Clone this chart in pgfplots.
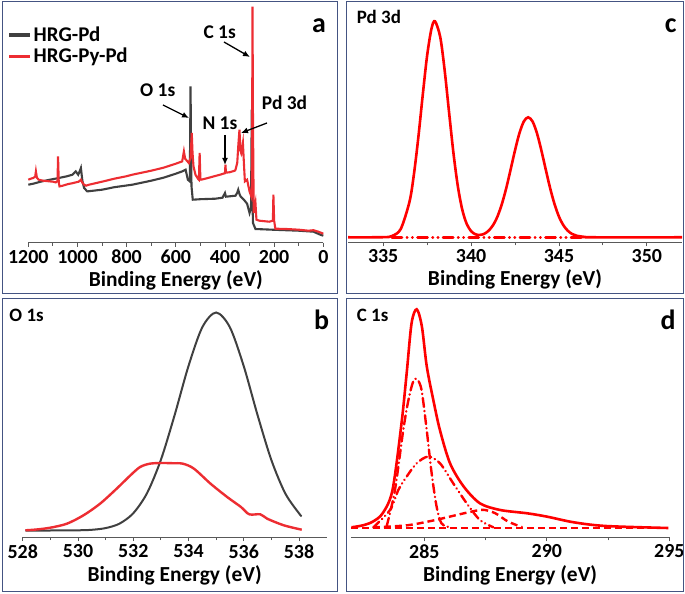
\documentclass[border=0pt]{standalone}
\usepackage{fontspec}
\setmainfont{Carlito}
\usepackage{pgfplots}
\pgfplotsset{compat=1.18}
\usetikzlibrary{arrows.meta}

\definecolor{boxc}{RGB}{68,84,130}
\definecolor{redA}{RGB}{237,45,50}
\definecolor{grayA}{RGB}{64,64,64}
\definecolor{redC}{RGB}{255,0,0}

\pgfplotsset{
  panel/.style={
    scale only axis, clip=false,
    axis x line=bottom, axis y line=none,
    axis line style={-, black!65, line width=0.9bp},
    tick align=outside, major tick length=4bp, minor tick length=3bp,
    tick style={black!65, line width=0.9bp},
    minor tick num=1,
    tick label style={font=\bfseries\fontsize{20}{20}\selectfont},
    xlabel={Binding Energy (eV)},
    xlabel style={font=\bfseries\fontsize{21.5}{22}\selectfont, yshift=0bp},
    /pgf/number format/assume math mode=true,
    /pgf/number format/1000 sep={},
    ymin=0,
  },
}

\begin{document}
\begin{tikzpicture}
\useasboundingbox (0,0) rectangle (685bp,594bp);

% ---------- a: survey ----------
\begin{axis}[panel, at={(28.3bp,351.3bp)}, anchor=south west,
  width=295bp, height=238bp, xmin=0, xmax=1200, ymax=238, x dir=reverse,
  xtick={0,200,...,1200},
  legend cell align=left,
  legend style={draw=none, fill=none, at={(-0.072,0.915)}, anchor=north west,
    font=\bfseries\fontsize{21}{21}\selectfont, row sep=1bp, inner sep=0pt},
  legend image code/.code={\draw[#1, line width=3.5bp] (0bp,0bp) -- (21bp,0bp);}]
\addplot[grayA, line width=2.1bp] coordinates {
(1200,58) (1180,59) (1150,61) (1112,63) (1080,64.5) (1045,66.3) (1020,68)
(1007,71.3) (997,68) (990,72) (986,74.7) (980,62) (973,54.7) (960,51.3)
(900,53) (850,55.5) (777,58) (700,62) (650,65) (600,69) (574,71.3) (560,73)
(551,63) (543,61.3) (540,156.3) (537,70) (536,56) (531,43) (500,43.5)
(439,44) (410,45) (400,49.7) (396,46) (357,47) (350,50) (346,53) (340,48)
(336,46) (323,43) (310,39) (300,29.7) (294,35) (291,133) (288,40) (286,19.7)
(276,13.7) (209,13) (100,12) (40,11) (12,8) (0,7)};
\addplot[redA, line width=2.1bp] coordinates {
(1200,63) (1190,64) (1180,64.7) (1172,66) (1169,71.3) (1165,65) (1158,63)
(1140,62) (1120,61.5) (1100,61) (1088,60.3) (1081,62) (1079,86.3) (1076,60)
(1073,56.3) (1060,57) (1040,58.5) (1020,59.5) (1007,60.3) (995,61) (986,63)
(980,60) (973,58) (965,57) (953,58) (900,61) (850,64) (800,66.5) (777,68)
(700,72) (650,75) (600,79) (574,81.3) (567,91.3) (562,84) (555,82) (547,79.7)
(540,85) (535,109.7) (532,90) (528,76.3) (520,68) (510,64) (506,63) (503,89.7)
(500,64) (497,63) (480,64) (450,66) (420,68) (400,69.5) (398,78) (396,70)
(380,70.5) (360,72) (357,73) (350,80) (346,96.3) (341,113) (337,92) (334,89.7)
(330,95) (327,99.7) (322,75) (319,61.3) (310,63) (300,51.3) (293,46.3)
(290,60) (288,236) (286,120) (283,29.7) (280,35) (276,40) (272,23) (260,22)
(240,21.5) (220,21) (205,22) (203,48) (200,22) (195,14) (150,13.7) (100,13)
(60,12) (40,12.5) (20,11) (10,10) (0,9)};
\legend{HRG-Pd, HRG-Py-Pd}
\end{axis}

% ---------- b: O 1s ----------
\begin{axis}[panel, at={(22.7bp,57bp)}, anchor=south west,
  width=303.9bp, height=237bp, xmin=528, xmax=539, ymax=237,
  xtick={528,530,...,538}]
\addplot[grayA, line width=2bp, smooth] coordinates {
(528.1,6.5) (529,6.5) (530,6.7) (530.5,7.2) (531,8.9) (531.5,13.3) (532,23.7)
(532.5,43.8) (533,77.0) (533.5,122.0) (534,170.9) (534.5,209.7) (535,224.5)
(535.5,209.7) (536,170.9) (536.5,122.0) (537,77.0) (537.5,43.8) (538,23.7)
(538.1,20.9)};
\addplot[redA, line width=2.4bp, smooth] coordinates {
(528.1,6.7) (528.5,7.5) (529.0,9.3) (529.6,13.3) (530.2,21.7) (530.8,33.3)
(531.4,48.3) (531.9,61.7) (532.25,70) (532.6,73.3) (533.0,74) (533.4,73.8)
(533.8,73.3) (534.2,68.3) (534.8,53.3) (535.4,40) (535.9,30) (536.2,22.7)
(536.6,22.7) (536.85,18.3) (537.45,11.7) (538.1,7.3)};
\end{axis}

% ---------- c: Pd 3d ----------
\begin{axis}[panel, at={(348bp,351.7bp)}, anchor=south west,
  width=334bp, height=236bp, xmin=333, xmax=352, ymax=236,
  xtick={335,340,345,350}]
\addplot[redC, line width=2.8bp, line cap=round,
  dash pattern=on 10bp off 5bp on 0.3bp off 5bp on 0.3bp off 5bp] coordinates {
(335.5,5) (346.3,5)};
\addplot[redC, line width=2.6bp, smooth] coordinates {
(333,5) (335,5.1) (335.5,6.3) (336,13.3) (336.5,40.7) (336.75,68) (337,104.7)
(337.25,147) (337.5,186.6) (337.75,213.7) (337.95,221) (338.25,205)
(338.5,171.7) (338.75,129.9) (339,89) (339.25,55.8) (339.5,32.6)
(339.75,18.5) (340,11.2) (340.25,8) (340.5,7.4) (340.75,8.5) (341,11.6)
(341.25,17.1) (341.5,25.7) (341.75,38.1) (342,54) (342.25,72.7) (342.5,91.9)
(342.75,109) (343,120.8) (343.25,125) (343.5,120.8) (343.75,109) (344,91.9)
(344.25,72.7) (344.5,54) (344.75,38.1) (345,25.7) (345.25,17.1) (345.5,11.6)
(345.75,8.3) (346,6.6) (346.5,5.3) (347,5) (352,5)};
\end{axis}

% ---------- d: C 1s ----------
\begin{axis}[panel, at={(350.8bp,56.7bp)}, anchor=south west,
  width=318.5bp, height=237bp, xmin=282, xmax=295, ymax=237,
  xtick={285,290,295}]
\addplot[redC, line width=2.4bp, dash pattern=on 7bp off 4bp] coordinates {
(282,9.5) (295,9.5)};
\addplot[redC, line width=2.4bp, smooth, line cap=round,
  dash pattern=on 9bp off 4bp on 0.3bp off 4bp] coordinates {
(283.46,10.7) (283.8,47) (284.14,107) (284.35,137) (284.55,156) (284.71,158)
(284.89,147) (285.1,107) (285.3,64) (285.5,31) (285.7,14) (286.05,10)};
\addplot[redC, line width=2.4bp, smooth, line cap=round,
  dash pattern=on 8bp off 4bp on 0.3bp off 4bp on 0.3bp off 4bp] coordinates {
(282.92,10) (283.6,27.3) (283.94,47.3) (284.28,60.7) (284.69,74) (285.16,80.7)
(285.64,74) (286.18,54) (286.73,34) (287.27,17.3) (287.82,10)};
\addplot[redC, line width=2.4bp, smooth, dash pattern=on 7bp off 4bp] coordinates {
(282.9,10) (284.3,12) (285.4,17) (286.1,21) (286.8,25) (287.4,27.5)
(287.9,24) (288.4,16) (289,10)};
\addplot[redC, line width=2.6bp, smooth] coordinates {
(282.03,10) (282.5,12) (282.9,15.7) (283.3,24) (283.7,47) (284.07,114)
(284.28,164) (284.48,214) (284.69,228) (284.9,211) (285.1,171) (285.37,137)
(285.64,107) (286.05,74) (286.6,51) (287.27,34) (288.1,27.3) (289.2,24)
(290,20.7) (291.1,15) (292.4,11.3) (294.96,9.3)};
\end{axis}

% ---------- boxes and text (pixel coordinates) ----------
\begin{scope}[x=1bp, y=-1bp, yshift=594bp]
\draw[boxc, line width=1bp] (2,2) rectangle (337,294);
\draw[boxc, line width=1bp] (346,2) rectangle (683,294);
\draw[boxc, line width=1bp] (2,299) rectangle (337,592);
\draw[boxc, line width=1bp] (346,299) rectangle (683,592);

\begin{scope}[font=\bfseries\fontsize{28}{28}\selectfont, inner sep=0pt]
\node[anchor=base] at (319,33) {a};
\node[anchor=base] at (670.7,33) {c};
\node[anchor=base] at (321.7,330) {b};
\node[anchor=base] at (668,330) {d};
\end{scope}

\begin{scope}[font=\bfseries\fontsize{19}{19}\selectfont, inner sep=0pt]
\node[anchor=base west] at (356.7,24) {Pd 3d};
\node[anchor=base west] at (9.3,321.7) {O 1s};
\node[anchor=base west] at (356.7,321.7) {C 1s};
\end{scope}

\begin{scope}[font=\bfseries\fontsize{19.5}{19.5}\selectfont, inner sep=0pt]
\node[anchor=base west] at (203.3,38.3) {C 1s};
\node[anchor=base west] at (140,96.7) {O 1s};
\node[anchor=base west] at (202.3,130) {N 1s};
\node[anchor=base west] at (261.7,110) {Pd 3d};
\end{scope}
\begin{scope}[line width=1.3bp, -{Latex[length=7bp,width=6bp]}]
\draw (224,42) -- (250,57);
\draw (163,105) -- (189,118);
\draw (225,135) -- (225,165);
\draw (267,123) -- (241,133);
\end{scope}
\end{scope}
\end{tikzpicture}
\end{document}
